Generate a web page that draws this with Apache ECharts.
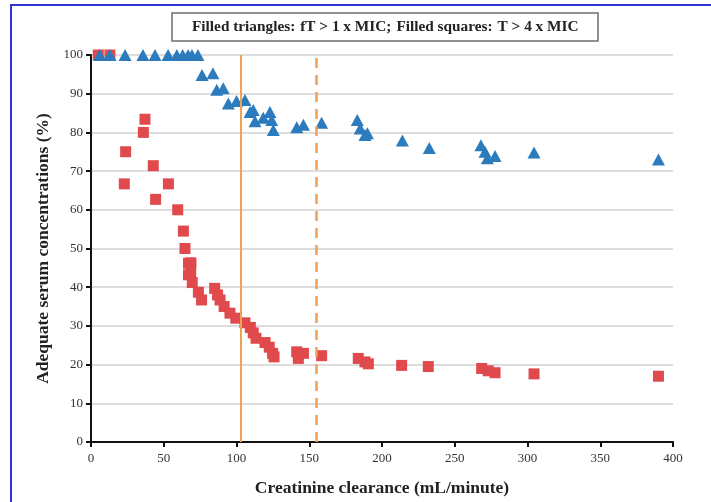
<!DOCTYPE html>
<html>
<head>
<meta charset="utf-8">
<script src="https://cdn.jsdelivr.net/npm/echarts@6/dist/echarts.min.js"></script>
<style>html,body{margin:0;padding:0;background:#fff}#main{width:711px;height:502px}</style>
</head>
<body>
<div id="main"></div>
<script>
// fT > 1 x MIC (filled triangles)
var triangles = [[6,100],[13,100],[23.4,100],[35.7,100],[44,100],[53,100],[59,100],[63,100],[66.7,100],[69.4,100],[73.5,100],
  [76.3,94.8],[83.8,95.3],[86.4,91],[90.9,91.4],[94.4,87.5],[100,88.1],[105.8,88.4],[109.3,85.3],[111.5,85.8],[112.7,82.9],
  [118.4,83.8],[123,85.3],[124.2,83.2],[125.3,80.6],[141.4,81.3],[146,82],[158.5,82.5],[183,83.2],[185,81],[188.3,79.3],
  [190,79.8],[214,77.9],[232.5,76],[268,76.7],[270.8,75],[272.4,73.3],[277.7,73.9],[304.5,74.8],[390,73]];
// T > 4 x MIC (filled squares)
var squares = [[5,100],[13,100],[22.9,66.7],[23.8,75],[36,80],[37.1,83.4],[42.8,71.4],[44.4,62.7],[53.2,66.7],[59.6,60],
  [63.5,54.5],[64.6,50],[67,46.2],[68.7,46.3],[67,43.2],[68.5,43.6],[69.6,41.2],[73.8,38.7],[76,36.7],[85,39.7],[87,38],
  [88.7,36.7],[91.5,35],[95.5,33.3],[99.5,32],[105.8,30.8],[109.5,29.6],[111.5,28.2],[113.4,26.8],[119.6,25.7],[122.5,24.5],
  [124.8,22.9],[125.8,22],[141.4,23.3],[142.5,21.6],[146,22.9],[158.5,22.3],[183.7,21.6],[188.3,20.7],[190.6,20.2],
  [213.5,19.8],[231.8,19.5],[268.5,19],[273,18.4],[277.7,17.9],[304.5,17.6],[390,17]];
var solidLine = 103, dashedLine = 155;

var chart = echarts.init(document.getElementById('main'));
var serif = '"Liberation Serif", "DejaVu Serif", serif';
var orange = '#f3a053';
chart.setOption({
  animation: false,
  title: {
    left: 172, top: 13,
    padding: [5, 20, 5, 20],
    borderColor: '#6e6e6e', borderWidth: 1.5,
    text: '{b|Filled triangles:} {n|fT > 1 x MIC;} {b|Filled squares:} {n|T > 4 x MIC}',
    textStyle: {
      rich: {
        b: {fontFamily: serif, fontWeight: 'bold', fontSize: 15.3, color: '#222'},
        n: {fontFamily: serif, fontSize: 15.3, color: '#222'}
      }
    }
  },
  graphic: [
    {type: 'polyline', shape: {points: [[11, 502], [11, 5], [711, 5]]}, style: {stroke: '#3434d6', lineWidth: 2, fill: null}, silent: true}
  ],
  grid: {left: 91, right: 38, top: 55, bottom: 60},
  xAxis: {
    type: 'value', min: 0, max: 400, interval: 50,
    name: 'Creatinine clearance (mL/minute)', nameLocation: 'middle', nameGap: 37,
    nameTextStyle: {fontFamily: serif, fontWeight: 'bold', fontSize: 17.5, color: '#222'},
    axisLine: {lineStyle: {color: '#111', width: 2}},
    axisTick: {show: true, length: 5, lineStyle: {color: '#111', width: 2}},
    axisLabel: {fontFamily: serif, fontSize: 13, color: '#333', margin: 10},
    splitLine: {show: false}
  },
  yAxis: {
    type: 'value', min: 0, max: 100, interval: 10,
    name: 'Adequate serum concentrations (%)', nameLocation: 'middle', nameGap: 35,
    nameTextStyle: {fontFamily: serif, fontWeight: 'bold', fontSize: 17.5, color: '#222'},
    axisLine: {show: true, lineStyle: {color: '#111', width: 2}},
    axisTick: {show: true, length: 5, lineStyle: {color: '#111', width: 2}},
    axisLabel: {fontFamily: serif, fontSize: 13, color: '#333', margin: 8},
    splitLine: {show: true, lineStyle: {color: '#d2d2d2', width: 1.5}}
  },
  series: [
    {
      type: 'scatter', name: 'T > 4 x MIC', data: squares,
      symbol: 'rect', symbolSize: 11,
      itemStyle: {color: '#e04a4c', opacity: 1},
      markLine: {
        silent: true, symbol: 'none', label: {show: false},
        data: [
          {xAxis: solidLine, lineStyle: {color: orange, width: 2, type: 'solid'}},
          {xAxis: dashedLine, lineStyle: {color: orange, width: 2.5, type: [10, 7]}}
        ]
      }
    },
    {
      type: 'scatter', name: 'fT > 1 x MIC', data: triangles,
      symbol: 'triangle', symbolSize: [13, 12],
      itemStyle: {color: '#2b7bbd', opacity: 1}
    }
  ]
});
</script>
</body>
</html>
